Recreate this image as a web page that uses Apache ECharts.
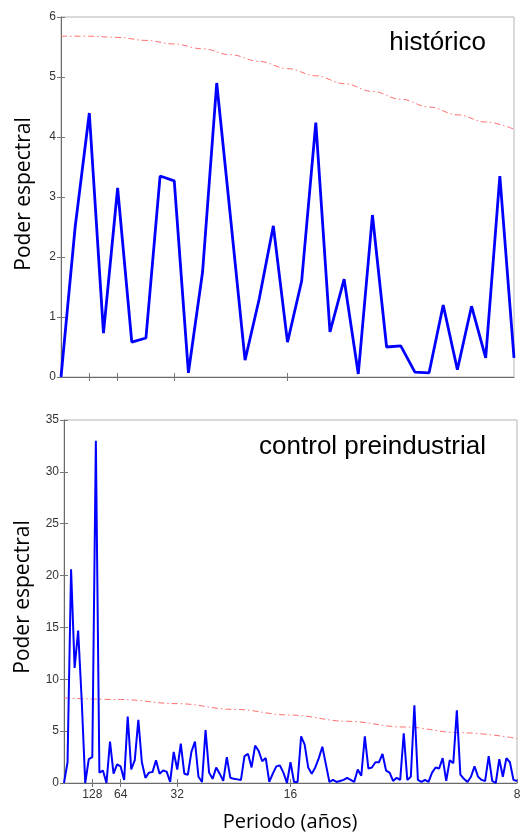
<!DOCTYPE html>
<html>
<head>
<meta charset="utf-8">
<script src="https://cdn.jsdelivr.net/npm/echarts@6.0.0/dist/echarts.min.js"></script>
<style>
  html, body { margin: 0; background: #fff; }
  #chart { width: 532px; height: 834px; }
</style>
</head>
<body>
<div id="chart"></div>
<script>
// periods (years) shown on the frequency axis
const periodTicks = [128, 64, 32, 16, 8];

// historical run: 33 spectral estimates, frequency step 1/256 cycles per year
const histStep = 1 / 256;
const histPower = [0.0, 2.5, 4.4, 0.73, 3.15, 0.58, 0.65, 3.35, 3.27, 0.07, 1.75, 4.9, 2.6,
  0.28, 1.3, 2.52, 0.58, 1.6, 4.24, 0.75, 1.63, 0.05, 2.7, 0.5, 0.52, 0.08, 0.07, 1.2,
  0.12, 1.18, 0.32, 3.35, 0.32];
// red-noise significance curve, every second frequency
const histRed = [5.68, 5.68, 5.66, 5.61, 5.55, 5.47, 5.37, 5.26, 5.14, 5.02, 4.89, 4.76,
  4.63, 4.50, 4.37, 4.25, 4.13];

// preindustrial control: 129 estimates, frequency step 1/1024 cycles per year
const ctrlStep = 1 / 1024;
const ctrlPower = [0.0, 2.0, 20.6, 11.1, 14.7, 8.0, 0.0, 2.3, 2.5, 33.0,
  1.0, 1.2, 0.0, 4.0, 0.9, 1.8, 1.6, 0.3, 6.4, 1.3,
  2.2, 6.1, 2.0, 0.5, 1.0, 1.05, 2.2, 0.9, 1.2, 1.1,
  0.1, 3.0, 1.3, 3.8, 0.9, 0.8, 3.0, 4.0, 0.6, 0.1,
  5.1, 1.0, 0.4, 1.5, 0.9, 0.2, 2.5, 0.5, 0.4, 0.35,
  0.3, 2.6, 2.8, 1.5, 3.6, 3.1, 2.1, 2.4, 0.1, 0.9,
  1.6, 1.7, 1.0, 0.0, 2.0, 0.1, 0.1, 4.5, 3.7, 1.5,
  0.9, 1.5, 2.4, 3.5, 1.8, 0.1, 0.3, 0.1, 0.2, 0.3,
  0.5, 0.3, 0.1, 1.3, 0.7, 4.5, 1.4, 1.5, 2.0, 2.0,
  2.8, 1.2, 1.0, 0.2, 0.5, 0.3, 4.8, 0.3, 0.6, 7.5,
  0.3, 0.1, 0.3, 0.1, 1.0, 1.5, 1.4, 2.4, 0.2, 2.2,
  1.9, 7.0, 0.8, 0.4, 0.1, 0.6, 1.6, 0.6, 0.3, 0.2,
  2.6, 0.2, 0.0, 2.3, 0.6, 2.4, 2.0, 0.3, 0.2];
// red-noise curve, every 16th frequency
const ctrlRed = [8.2, 8.05, 7.65, 7.1, 6.55, 5.95, 5.4, 4.85, 4.3];

const tickFreqs = periodTicks.map(p => 1 / p);
const innerTicks = tickFreqs.slice(0, -1);
const labelFont = 'Liberation Sans';

function xAxis(grid, position, labels) {
  return {
    type: 'value', gridIndex: grid, position: position,
    min: 0, max: 1 / 8,
    splitLine: { show: false },
    axisLine: { show: position === 'bottom', lineStyle: { color: '#6a6a6a', width: 1 } },
    axisTick: { inside: true, length: 4, customValues: labels ? tickFreqs : innerTicks, lineStyle: { color: '#777' } },
    axisLabel: {
      show: labels, customValues: tickFreqs, margin: 6,
      color: '#333', fontSize: 12, fontFamily: labelFont,
      formatter: v => String(Math.round(1 / v))
    }
  };
}

function yAxis(grid, position, max, interval) {
  return {
    type: 'value', gridIndex: grid, position: position,
    min: 0, max: max, interval: interval,
    splitLine: { show: false },
    axisLine: { show: position === 'left', lineStyle: { color: '#6a6a6a', width: 1 } },
    axisTick: { inside: true, length: 4, lineStyle: { color: '#777' } },
    axisLabel: {
      show: position === 'left', margin: 5,
      color: '#333', fontSize: 12, fontFamily: labelFont
    }
  };
}

const redLine = { color: '#ff6f6f', width: 1, type: [6, 3, 1.5, 3] };

const chart = echarts.init(document.getElementById('chart'));

chart.setOption({
  animation: false,
  backgroundColor: '#fff',
  grid: [
    { left: 61, top: 17, width: 453, height: 360, show: true, borderColor: '#b4b4b4', borderWidth: 1 },
    { left: 64, top: 420, width: 453, height: 363, show: true, borderColor: '#b4b4b4', borderWidth: 1 }
  ],
  xAxis: [
    xAxis(0, 'bottom', false),
    xAxis(0, 'top', false),
    xAxis(1, 'bottom', true),
    xAxis(1, 'top', false)
  ],
  yAxis: [
    yAxis(0, 'left', 6, 1),
    yAxis(0, 'right', 6, 1),
    yAxis(1, 'left', 35, 5),
    yAxis(1, 'right', 35, 5)
  ],
  series: [
    {
      type: 'line', xAxisIndex: 0, yAxisIndex: 0, z: 2,
      data: histRed.map((v, i) => [i * 2 * histStep, v]),
      smooth: 0.4, smoothMonotone: 'x', showSymbol: false, lineStyle: redLine
    },
    {
      type: 'line', xAxisIndex: 0, yAxisIndex: 0, z: 3,
      data: histPower.map((v, i) => [i * histStep, v]),
      showSymbol: false, lineStyle: { color: '#0000ff', width: 2.8 }
    },
    {
      type: 'line', xAxisIndex: 2, yAxisIndex: 2, z: 2,
      data: ctrlRed.map((v, i) => [i * 16 * ctrlStep, v]),
      smooth: 0.4, smoothMonotone: 'x', showSymbol: false, lineStyle: redLine
    },
    {
      type: 'line', xAxisIndex: 2, yAxisIndex: 2, z: 3,
      data: ctrlPower.map((v, i) => [i * ctrlStep, v]),
      showSymbol: false, lineStyle: { color: '#0000ff', width: 2 }
    }
  ],
  graphic: [
    {
      type: 'text', x: 486, y: 43,
      style: { text: 'histórico', fontSize: 26, fontFamily: labelFont, fill: '#000', align: 'right', verticalAlign: 'middle' }
    },
    {
      type: 'text', x: 486, y: 447,
      style: { text: 'control preindustrial', fontSize: 26, fontFamily: labelFont, fill: '#000', align: 'right', verticalAlign: 'middle' }
    },
    {
      type: 'text', x: 24, y: 194, rotation: Math.PI / 2,
      style: { text: 'Poder espectral', fontSize: 21, fontFamily: 'Open Sans', fill: '#000', align: 'center', verticalAlign: 'middle' }
    },
    {
      type: 'text', x: 23, y: 597, rotation: Math.PI / 2,
      style: { text: 'Poder espectral', fontSize: 21, fontFamily: 'Open Sans', fill: '#000', align: 'center', verticalAlign: 'middle' }
    },
    {
      type: 'text', x: 290, y: 822,
      style: { text: 'Periodo (años)', fontSize: 20, fontFamily: 'Open Sans', fill: '#000', align: 'center', verticalAlign: 'middle' }
    }
  ]
});
</script>
</body>
</html>
